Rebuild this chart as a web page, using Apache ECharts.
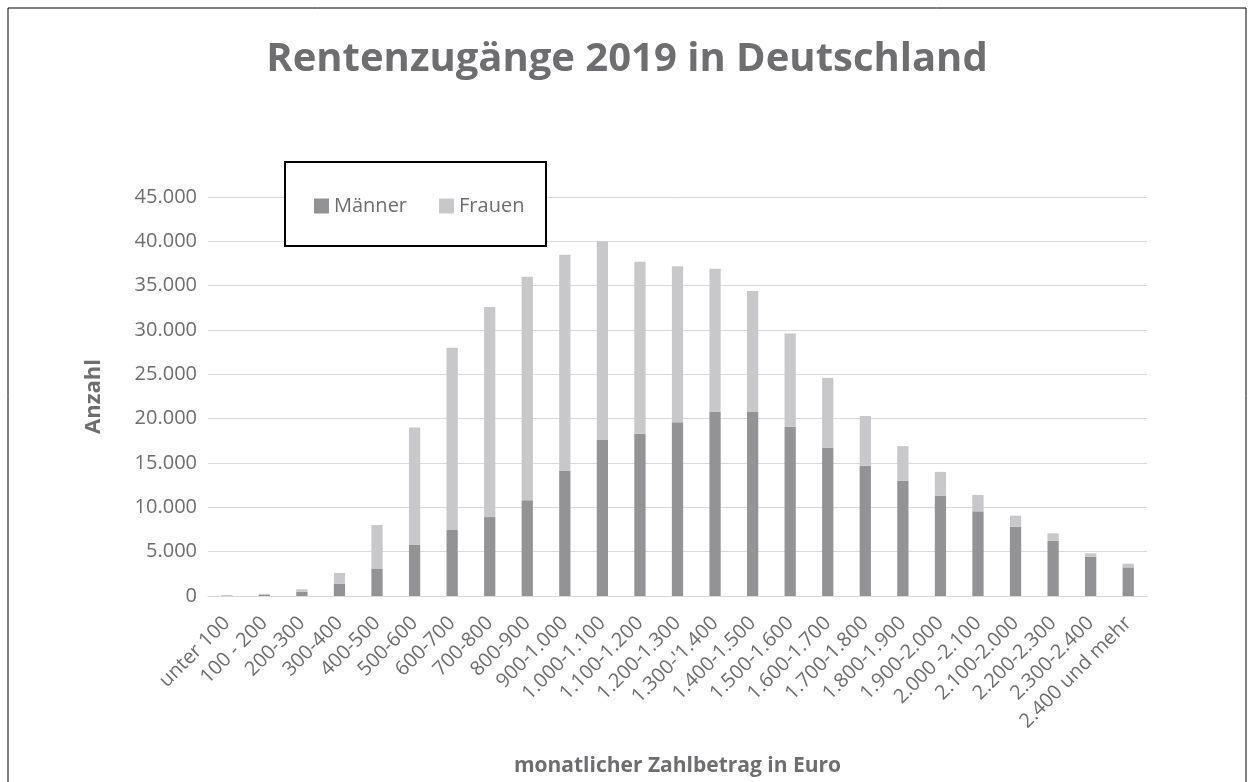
<!DOCTYPE html>
<html>
<head>
<meta charset="utf-8">
<script src="https://cdn.jsdelivr.net/npm/echarts@6/dist/echarts.min.js"></script>
<style>
  html, body { margin: 0; padding: 0; background: #fff; }
  #chart { width: 1254px; height: 782px; }
</style>
</head>
<body>
<div id="chart"></div>
<script>
var categories = ["unter 100", "100 - 200", "200-300", "300-400", "400-500", "500-600", "600-700",
    "700-800", "800-900", "900-1.000", "1.000-1.100", "1.100-1.200", "1.200-1.300", "1.300-'1.400",
    "1.400-1.500", "1.500-1.600", "1.600-1.700", "1.700-1.800", "1.800-1.900", "1.900-2.000",
    "2.000 -2.100", "2.100-2.000", "2.200-2.300", "2.300-2.400", "2.400 und mehr"];

var maenner = [50, 150, 480, 1400, 3100, 5800, 7500, 8900, 10800, 14100, 17600, 18300, 19600, 20800,
    20800, 19100, 16700, 14700, 13000, 11300, 9550, 7800, 6240, 4430, 3230];

var frauen = [60, 100, 280, 1200, 4900, 13200, 20500, 23700, 25200, 24400, 22400, 19400, 17600, 16100,
    13600, 10500, 7900, 5600, 3900, 2700, 1850, 1260, 830, 380, 410];

var yTicks = { min: 0, max: 45000, interval: 5000 };

var font = "Open Sans";
var grey = "#6e6e70";

var chart = echarts.init(document.getElementById("chart"));

chart.setOption({
    animation: false,
    textStyle: { fontFamily: font },
    title: {
        text: "Rentenzugänge 2019 in Deutschland",
        left: "center",
        top: 35,
        textStyle: { fontSize: 40, fontWeight: "bold", color: grey, fontFamily: font }
    },
    graphic: [
        {
            type: "rect",
            shape: { x: 8, y: 8, width: 1238, height: 800 },
            style: { fill: "none", stroke: "#000", lineWidth: 1 },
            silent: true
        },
        {
            type: "rect",
            shape: { x: 285, y: 162, width: 261, height: 84 },
            style: { fill: "#fff", stroke: "#000", lineWidth: 2 },
            z: 10,
            silent: true
        }
    ],
    legend: {
        left: 309,
        top: 191,
        z: 20,
        itemWidth: 15,
        itemHeight: 15,
        itemGap: 32,
        icon: "rect",
        textStyle: { fontSize: 20, color: grey, fontFamily: font },
        data: ["Männer", "Frauen"]
    },
    grid: { left: 208, right: 107, top: 197, bottom: 186, outerBoundsMode: "none" },
    xAxis: {
        type: "category",
        data: categories,
        name: "monatlicher Zahlbetrag in Euro",
        nameLocation: "middle",
        nameGap: 160,
        nameTextStyle: { fontSize: 21, fontWeight: "bold", color: grey, fontFamily: font },
        axisLine: { lineStyle: { color: "#d9d9d9", width: 1 } },
        axisTick: { show: false },
        axisLabel: { rotate: 45, interval: 0, fontSize: 20, color: grey, margin: 24 }
    },
    yAxis: {
        type: "value",
        min: yTicks.min,
        max: yTicks.max,
        interval: yTicks.interval,
        name: "Anzahl",
        nameLocation: "middle",
        nameRotate: 90,
        nameGap: 103,
        nameTextStyle: { fontSize: 22, fontWeight: "bold", color: grey, fontFamily: font },
        axisLine: { show: false },
        axisTick: { show: false },
        splitLine: { lineStyle: { color: "#d9d9d9", width: 1 } },
        axisLabel: {
            fontSize: 20,
            color: grey,
            margin: 11,
            formatter: function (v) {
                return v.toString().replace(/\B(?=(\d{3})+(?!\d))/g, ".");
            }
        }
    },
    series: [
        {
            name: "Männer",
            type: "bar",
            stack: "all",
            barWidth: "30%",
            data: maenner,
            itemStyle: { color: "#939396" }
        },
        {
            name: "Frauen",
            type: "bar",
            stack: "all",
            data: frauen,
            itemStyle: { color: "#c8c8ca" }
        }
    ]
});
</script>
</body>
</html>
